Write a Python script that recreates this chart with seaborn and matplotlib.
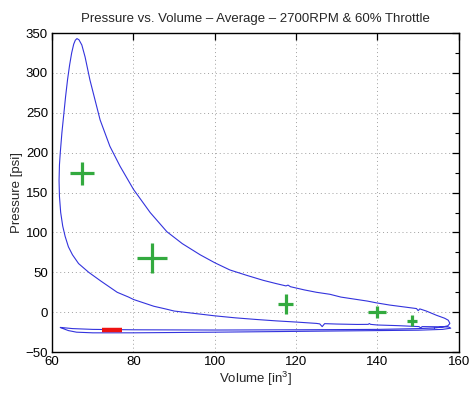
import matplotlib
matplotlib.use("Agg")
import matplotlib.pyplot as plt
from matplotlib.ticker import MultipleLocator
import seaborn as sns
import pandas as pd

# ---- data ----
# compression stroke (volume decreasing toward TDC, ending at peak pressure)
comp_vol = [157.5, 155.0, 151.0, 150.6, 150.2, 145.0, 140.0, 138.3, 138.0, 137.7, 135.0, 130.0,
            127.0, 126.4, 125.8, 125.0, 120.0, 115.0, 110.0, 105.0, 100.0, 95.0, 90.0, 88.0,
            85.0, 80.0, 78.8, 76.0, 72.0, 69.0, 66.5, 65.0, 64.0, 63.2, 62.6, 62.1, 61.8,
            61.7, 61.8, 62.0, 62.4, 62.8, 63.3, 63.8, 64.3, 64.8, 65.3, 65.7, 66.1]
comp_p = [-18.5, -18.2, -18.0, -19.5, -18.0, -16.8, -16.0, -15.2, -14.2, -15.2, -15.3, -14.8,
          -14.3, -18.0, -14.6, -14.0, -12.3, -10.8, -9.0, -7.0, -4.5, -1.5, 1.5, 4.0,
          7.5, 16.0, 19.0, 25.0, 39.0, 50.0, 61.0, 72.0, 82.0, 95.0, 108.0, 125.0, 145.0,
          165.0, 185.0, 200.0, 225.0, 245.0, 270.0, 292.0, 310.0, 325.0, 336.0, 341.0, 343.0]

# expansion stroke (volume increasing from peak)
exp_vol = [66.6, 67.3, 68.1, 69.3, 71.8, 74.2, 76.7, 80.0, 84.1, 88.2, 92.0, 96.4,
           100.0, 103.7, 108.0, 111.9, 115.0, 117.5, 118.0, 118.6, 122.0, 125.0, 128.3, 131.0,
           134.9, 137.5, 139.8, 143.0, 146.0, 149.6, 150.0, 150.4, 152.0, 154.5, 156.5,
           157.4, 157.8, 157.3, 156.0]
exp_p = [341.5, 335.0, 320.0, 291.0, 241.0, 208.0, 183.0, 154.0, 125.0, 101.0, 86.0, 72.0,
         62.0, 53.0, 46.0, 40.0, 36.0, 33.0, 34.0, 32.0, 28.0, 25.0, 22.5, 19.0,
         16.0, 14.0, 11.7, 9.0, 7.0, 4.6, 2.0, 4.2, 1.5, -3.8, -7.5,
         -10.0, -14.0, -17.0, -18.5]

# exhaust stroke (volume decreasing, upper pumping line)
exh_vol = [154.0, 150.0, 140.0, 120.0, 100.0, 80.0, 70.0, 65.0, 62.0]
exh_p = [-19.8, -20.5, -21.5, -22.0, -22.3, -22.0, -21.5, -20.5, -19.0]

# intake stroke (volume increasing, lower pumping line)
int_vol = [62.0, 64.0, 66.0, 70.0, 80.0, 90.0, 100.0, 120.0, 140.0, 150.0, 156.0, 158.0, 157.5]
int_p = [-19.2, -23.0, -25.0, -25.8, -25.8, -25.4, -25.0, -24.0, -23.0, -22.5, -21.5, -20.0, -18.5]

# averaged points with uncertainty (green crosses)
avg_vol = [67.3, 84.5, 117.4, 139.8, 148.5]
avg_p = [174.0, 68.0, 10.0, 0.4, -10.5]
avg_verr = [2.9, 3.7, 1.9, 2.2, 1.2]
avg_perr = [14.0, 19.0, 12.5, 8.0, 7.0]

# red marker
red_vol = [74.7]
red_p = [-22.5]
red_verr = [2.4]
red_perr = [0.0]

title = "Pressure vs. Volume \u2013 Average \u2013 2700RPM & 60% Throttle"
xlabel = "Volume [in$^3$]"
ylabel = "Pressure [psi]"
xticks = [60, 80, 100, 120, 140, 160]
yticks = [-50, 0, 50, 100, 150, 200, 250, 300, 350]

# ---- plotting ----
sns.set_style("white")
plt.rcParams['font.family'] = ['Liberation Sans', 'DejaVu Sans']
plt.rcParams['mathtext.default'] = 'regular'

vol = exh_vol + int_vol + comp_vol + exp_vol + [exh_vol[0]]
prs = exh_p + int_p + comp_p + exp_p + [exh_p[0]]
df = pd.DataFrame({"order": range(len(vol)), "Volume": vol, "Pressure": prs})

fig = plt.figure(figsize=(4.74, 3.93), dpi=100)
ax = fig.add_axes([0.110, 0.104, 0.858, 0.812])

sns.lineplot(data=df, x="Volume", y="Pressure", sort=False, estimator=None,
             color="#3333dd", linewidth=0.8, ax=ax)

ax.errorbar(avg_vol, avg_p, xerr=avg_verr, yerr=avg_perr, fmt='none',
            ecolor="#33aa3f", elinewidth=2.3, capsize=0, zorder=3)
ax.errorbar(red_vol, red_p, xerr=red_verr, yerr=red_perr, fmt='none',
            ecolor="#ee1111", elinewidth=3.2, capsize=0, zorder=3)

ax.set_xlim(60, 160)
ax.set_ylim(-50, 350)
ax.set_xticks(xticks)
ax.set_yticks(yticks)
ax.yaxis.set_minor_locator(MultipleLocator(25))
ax.tick_params(axis='both', which='both', direction='in', top=True, right=True,
               labelsize=9.5, colors='black', pad=3)
ax.tick_params(which='major', length=5, width=0.9)
ax.tick_params(which='minor', length=3, width=0.8)
ax.grid(True, which='major', linestyle=(0, (1, 3)), color='#a0a0a0', linewidth=0.7)
for s in ax.spines.values():
    s.set_color('black')
    s.set_linewidth(1.0)

ax.set_title(title, fontsize=9.5, pad=8)
ax.set_xlabel(xlabel, fontsize=9.5, labelpad=1)
ax.set_ylabel(ylabel, fontsize=9.5, labelpad=2)

fig.savefig("out.png", dpi=100)
